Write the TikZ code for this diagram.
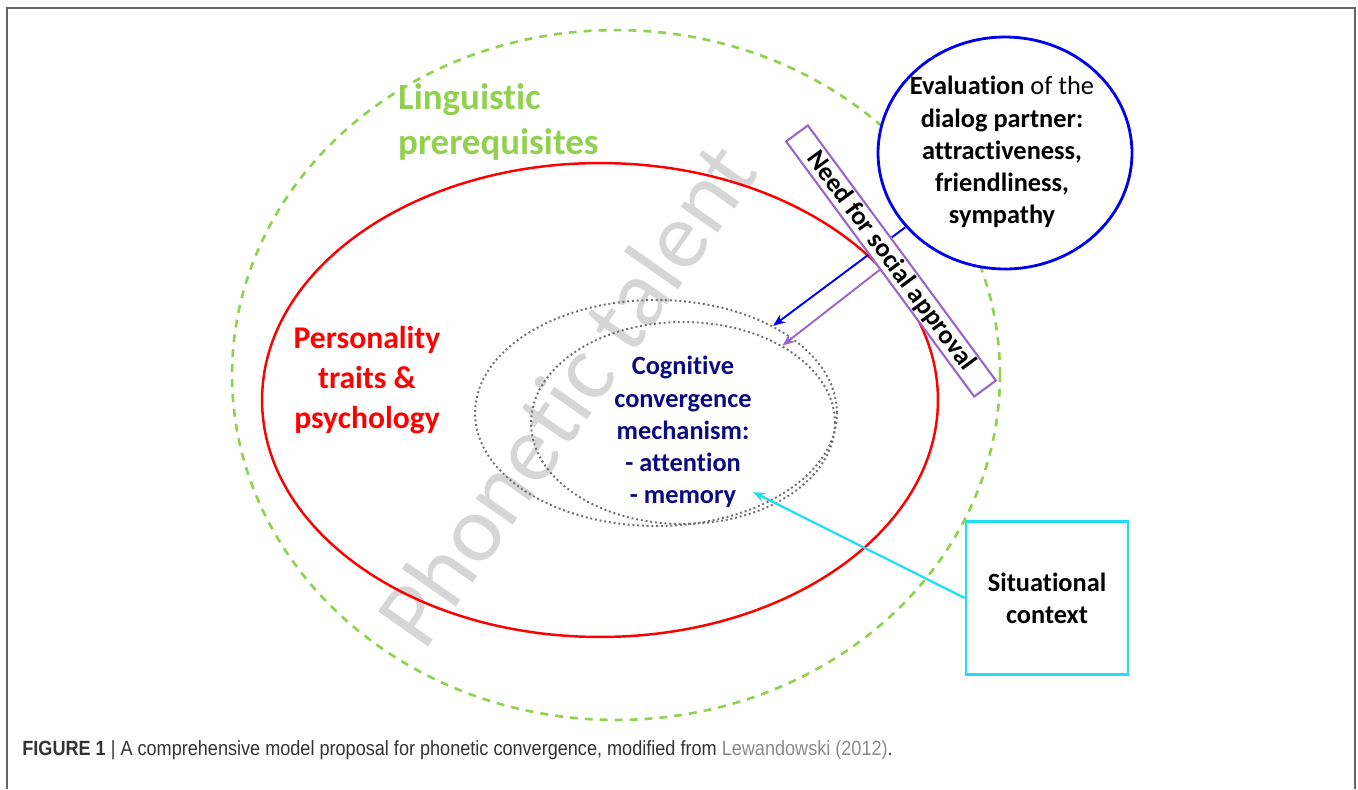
\documentclass[tikz,border=0pt]{standalone}
\usepackage{fontspec}
\setmainfont{Carlito}[RawFeature={-liga}]
\newfontfamily\capfont{Liberation Sans}[FakeStretch=0.88]
\usetikzlibrary{shapes.geometric, arrows.meta}
\definecolor{clrLing}{HTML}{92D050}
\definecolor{clrPers}{HTML}{FF0000}
\definecolor{clrEval}{HTML}{0000F0}
\definecolor{clrNeed}{HTML}{9966CC}
\definecolor{clrSit}{HTML}{21DDF5}
\definecolor{clrCog}{HTML}{0A0A80}
\definecolor{clrDot}{HTML}{707070}
\definecolor{clrTalent}{HTML}{D6D6D6}
\definecolor{clrFrame}{HTML}{666666}
\definecolor{clrCap}{HTML}{333333}
\definecolor{clrCite}{HTML}{8A8A8A}

\begin{document}
\begin{tikzpicture}[x=0.02cm, y=-0.02cm,
    region/.style={ellipse, inner sep=0pt, line width=1.5pt},
    mech/.style={ellipse, inner sep=0pt, draw=clrDot, line width=1.1pt, dash pattern=on 1.1pt off 1.6pt},
    heading/.style={align=center, font=\fontsize{15}{18.3}\selectfont\bfseries},
    arrow/.style={-{Stealth[length=7pt, width=5.5pt]}, line width=1.1pt},
]

% === Frame ===
\useasboundingbox (0,0) rectangle (1358,789);
\draw[clrFrame, line width=1.1pt] (7,789) -- (7,8) -- (1355,8) -- (1355,789);

% === Watermark ===
\node[text=clrTalent, rotate=55, font=\fontsize{54}{54}\selectfont] (talent) at (566,394) {Phonetic talent};

% === Regions ===
\node[region, draw=clrLing, dash pattern=on 4.5pt off 4pt,
      minimum width=15.36cm, minimum height=13.8cm] (ling) at (616,375) {};
\node[region, draw=clrPers, line width=1.4pt,
      minimum width=13.52cm, minimum height=9.48cm] (pers) at (600,400) {};
\node[mech, minimum width=7.24cm, minimum height=4.52cm] (cogouter) at (656,413) {};
\node[mech, minimum width=6.08cm, minimum height=4.04cm] (coginner) at (683,423) {};

% === Region labels ===
\node[anchor=west, align=left, text=clrLing, font=\fontsize{21}{25.5}\selectfont\bfseries]
    (linglbl) at (392,122) {Linguistic\\prerequisites};
\node[align=center, text=clrPers, font=\fontsize{18}{22.8}\selectfont\bfseries]
    (perslbl) at (367,380) {Personality\\traits \&\\psychology};
\node[heading, text=clrCog] (coglbl) at (683,432)
    {Cognitive\\convergence\\mechanism:\\- attention\\- memory};

% === Evaluation circle ===
\node[ellipse, draw=clrEval, fill=white, line width=1.6pt, inner sep=0pt,
      minimum width=5.08cm, minimum height=4.64cm] (evalc) at (1005,153) {};
\node[heading, text=black] (evallbl) at (1002,152)
    {Evaluation \mdseries of the\\dialog partner:\\attractiveness,\\friendliness,\\sympathy};
\draw[arrow, clrEval] (evalc) -- (cogouter);

% === Need for social approval ===
\node[rectangle, draw=clrNeed, fill=white, line width=1.2pt, rotate=-53.6,
      minimum width=6.34cm, minimum height=0.54cm, inner sep=0pt,
      font=\fontsize{15}{18}\selectfont\bfseries] (needbox) at (891,261) {Need for social approval};
\draw[arrow, clrNeed] (needbox) -- (coginner);

% === Situational context ===
\node[rectangle, draw=clrSit, fill=white, line width=1.4pt,
      minimum width=3.24cm, minimum height=3.06cm, heading] (sitbox) at (1047,598)
    {Situational\\context};
\coordinate (memtip) at (753,492);
\draw[arrow, clrSit, line width=1.3pt] (sitbox.west) -- (memtip);

% === Caption ===
\node[anchor=west, inner sep=0pt, text=clrCap, font=\capfont\fontsize{11.7}{14}\selectfont]
    (caption) at (22,750)
    {\textbf{FIGURE 1} | A comprehensive model proposal for phonetic convergence, modified from \textcolor{clrCite}{Lewandowski (2012)}.};

\end{tikzpicture}
\end{document}
